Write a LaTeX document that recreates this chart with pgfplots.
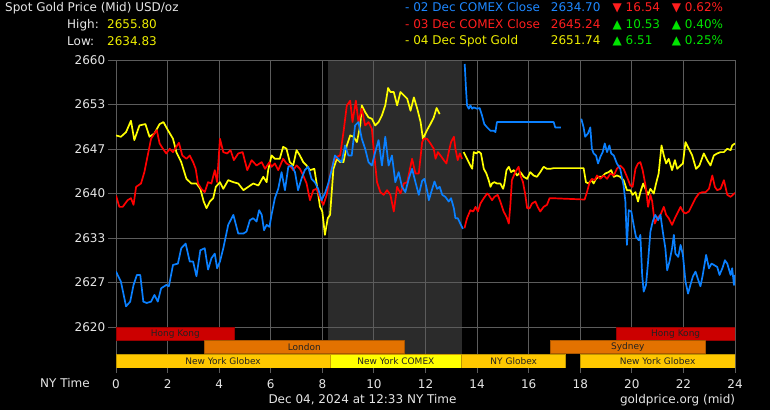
\documentclass[border=0pt]{standalone}
\usepackage{fontspec}
\setmainfont{DejaVu Sans}
\usepackage{xcolor}
\usepackage{pgfplots}
\pgfplotsset{compat=1.18}
\pagecolor{black}
\definecolor{gridgray}{HTML}{5C5C5C}
\definecolor{shade}{HTML}{2B2B2B}
\definecolor{txt}{HTML}{E6E6E6}
\definecolor{lblue}{HTML}{0A80FF}
\definecolor{tblue}{HTML}{1E88FF}
\definecolor{lred}{HTML}{FF0000}
\definecolor{tred}{HTML}{FF1E1E}
\definecolor{lyel}{HTML}{FFFF00}
\definecolor{tyel}{HTML}{EEEE00}
\definecolor{tgreen}{HTML}{00E400}
\definecolor{hk}{HTML}{CC0000}
\definecolor{ldn}{HTML}{E37200}
\definecolor{nyg}{HTML}{FFC800}
\definecolor{nyc}{HTML}{FFFF00}
\definecolor{bartxt}{HTML}{222222}
\newcommand\fs{\fontsize{12bp}{14bp}\selectfont}
\newcommand\fb{\fontsize{9bp}{10bp}\selectfont}
\begin{document}
\begin{tikzpicture}
\begin{axis}[
  at={(0,0)}, anchor=south west,
  scale only axis, width=619bp, height=308bp,
  set layers,
  xmin=0, xmax=24, ymin=2613.86, ymax=2660,
  xtick={0,2,...,24},
  ytick={2620,2626.667,2633.333,2640,2646.667,2653.333,2660},
  yticklabels={2620,2627,2633,2640,2647,2653,2660},
  grid=major,
  major grid style={draw=gridgray, line width=0.9bp},
  axis line style={draw=none},
  tick align=outside,
  xtick pos=bottom, ytick pos=left,
  tick style={draw=gridgray, line width=0.9bp},
  xtick style={/pgfplots/major tick length=5bp},
  ytick style={/pgfplots/major tick length=8bp},
  ticklabel style={font=\fs, text=txt},
  xticklabel style={yshift=-4bp},
  yticklabel style={xshift=-3bp},
  /pgf/number format/assume math mode=true,
  every axis plot/.append style={line join=round},
]
% shaded COMEX session
\addplot[on layer=axis background, fill=shade, draw=none] coordinates {(8.22,2613.86) (13.43,2613.86) (13.43,2660) (8.22,2660)} -- cycle;

% 04 Dec spot gold (yellow)
\addplot[lyel, line width=1.7bp] coordinates {
(0,2648.7) (0.19,2648.5) (0.39,2649.2) (0.58,2650.9) (0.71,2648.0) (0.91,2650.2) (1.14,2650.4) (1.30,2648.5) (1.49,2649.0) (1.69,2650.4) (1.84,2650.7) (2.01,2649.5) (2.21,2648.2) (2.34,2646.2) (2.53,2644.7) (2.73,2642.2) (2.92,2641.5) (3.12,2641.5) (3.27,2640.7) (3.40,2638.8) (3.51,2637.8) (3.64,2638.8) (3.77,2639.3) (3.87,2641.0) (4.03,2641.7) (4.16,2640.7) (4.35,2642.0) (4.55,2641.7) (4.74,2641.5) (4.94,2640.5) (5.13,2641.0) (5.32,2641.5) (5.52,2641.2) (5.71,2642.5) (5.84,2641.7) (5.90,2643.5) (6.03,2645.7) (6.16,2645.2) (6.35,2645.2) (6.48,2647.0) (6.61,2646.7) (6.74,2644.7) (6.87,2644.2) (7.00,2646.5) (7.13,2645.7) (7.26,2644.7) (7.39,2644.2) (7.52,2643.5) (7.69,2643.7) (7.78,2641.5) (7.91,2638.0) (8.00,2637.3) (8.10,2633.8) (8.21,2636.3) (8.30,2636.8) (8.43,2643.7) (8.56,2645.2) (8.69,2644.7) (8.82,2644.7) (8.95,2647.2) (9.08,2648.7) (9.21,2648.5) (9.34,2647.7) (9.47,2650.2) (9.53,2653.2) (9.66,2652.2) (9.79,2651.4) (9.92,2651.2) (10.05,2650.2) (10.18,2650.7) (10.31,2651.7) (10.44,2653.2) (10.55,2655.8) (10.64,2655.2) (10.77,2655.2) (10.90,2653.2) (11.03,2655.2) (11.16,2654.7) (11.29,2654.2) (11.42,2652.4) (11.55,2654.4) (11.68,2652.7) (11.81,2650.7) (11.90,2648.2) (12.06,2649.5) (12.19,2650.4) (12.32,2651.4) (12.43,2652.8) (12.55,2651.9)
};
\addplot[lyel, line width=1.7bp] coordinates {
(13.48,2646.2) (13.61,2645.2) (13.74,2644.2) (13.81,2643.7) (13.87,2646.2) (13.97,2646.0) (14.06,2646.3) (14.15,2646.0) (14.26,2643.7) (14.36,2643.0) (14.45,2642.0) (14.52,2641.0) (14.58,2641.5) (14.67,2641.7) (14.77,2641.5) (14.90,2641.5) (15.01,2640.7) (15.06,2641.5) (15.14,2643.5) (15.23,2644.0) (15.32,2643.2) (15.42,2643.5) (15.55,2642.7) (15.68,2643.2) (15.81,2642.5) (15.94,2642.2) (16.06,2643.2) (16.19,2642.7) (16.32,2642.5) (16.45,2643.2) (16.58,2644.0) (16.71,2643.7) (16.84,2643.7) (16.97,2643.8) (18.13,2643.8) (18.22,2641.7) (18.32,2641.5) (18.43,2642.0) (18.52,2641.5) (18.61,2642.2) (18.71,2642.5) (18.84,2642.5) (18.97,2643.0) (19.10,2643.2) (19.20,2643.5) (19.30,2642.5) (19.42,2642.7) (19.55,2642.5) (19.68,2642.0) (19.81,2640.5) (19.94,2640.5) (20.03,2639.8) (20.14,2640.2) (20.24,2638.8) (20.33,2640.2) (20.44,2641.5) (20.53,2640.7) (20.63,2639.8) (20.72,2640.7) (20.85,2640.0) (20.94,2641.5) (21.04,2643.0) (21.15,2647.2) (21.24,2645.7) (21.33,2644.5) (21.43,2645.2) (21.56,2643.5) (21.67,2645.0) (21.76,2643.7) (21.89,2644.2) (21.98,2644.5) (22.08,2647.7) (22.21,2646.7) (22.34,2645.7) (22.49,2643.7) (22.62,2644.2) (22.79,2646.0) (22.92,2645.0) (23.05,2644.2) (23.18,2645.7) (23.31,2646.0) (23.44,2646.2) (23.57,2646.2) (23.70,2646.7) (23.83,2646.5) (23.89,2647.2) (24.0,2647.5)
};

% 03 Dec COMEX close (red)
\addplot[lred, line width=1.7bp] coordinates {
(0,2639.7) (0.13,2638.0) (0.26,2638.0) (0.45,2639.0) (0.58,2639.3) (0.68,2638.3) (0.78,2641.0) (0.97,2641.5) (1.10,2643.2) (1.23,2645.7) (1.36,2648.2) (1.49,2649.0) (1.58,2649.5) (1.69,2647.5) (1.82,2646.7) (1.95,2646.0) (2.08,2646.7) (2.21,2646.2) (2.34,2647.0) (2.44,2647.6) (2.57,2645.7) (2.73,2645.2) (2.86,2645.7) (2.99,2644.7) (3.09,2643.7) (3.18,2641.5) (3.31,2640.7) (3.44,2640.2) (3.57,2641.7) (3.70,2641.5) (3.83,2643.5) (3.92,2641.7) (4.03,2648.2) (4.16,2646.2) (4.31,2646.0) (4.44,2646.5) (4.57,2645.0) (4.74,2646.0) (4.91,2646.2) (5.09,2643.5) (5.26,2645.0) (5.45,2644.2) (5.65,2644.7) (5.78,2643.7) (5.95,2644.7) (6.03,2644.0) (6.16,2644.5) (6.29,2643.5) (6.48,2645.2) (6.61,2644.5) (6.74,2644.2) (6.87,2643.5) (7.00,2644.2) (7.13,2643.7) (7.26,2642.7) (7.39,2641.5) (7.52,2639.0) (7.65,2640.5) (7.78,2640.7) (7.91,2639.3) (8.04,2638.3) (8.17,2639.8) (8.30,2642.7) (8.43,2644.7) (8.56,2645.5) (8.69,2645.7) (8.82,2649.2) (8.95,2653.2) (9.08,2653.9) (9.17,2650.7) (9.30,2653.9) (9.40,2650.7) (9.53,2652.7) (9.66,2650.2) (9.79,2650.7) (9.92,2649.7) (9.99,2646.7) (10.12,2641.7) (10.25,2640.2) (10.38,2639.8) (10.51,2640.5) (10.64,2639.8) (10.77,2637.3) (10.90,2641.0) (11.03,2640.0) (11.16,2641.5) (11.29,2641.7) (11.48,2645.2) (11.61,2643.0) (11.74,2643.0) (11.87,2647.7) (11.94,2648.2) (12.06,2648.2) (12.19,2647.5) (12.32,2646.7) (12.39,2645.2) (12.48,2646.2) (12.58,2645.7) (12.71,2645.0) (12.81,2644.5) (12.90,2646.2) (12.99,2647.7) (13.10,2648.5) (13.16,2646.7) (13.25,2645.0) (13.33,2646.0) (13.42,2645.2)
};
\addplot[lred, line width=1.7bp] coordinates {
(13.51,2634.8) (13.61,2636.3) (13.74,2637.5) (13.85,2637.3) (13.94,2638.0) (14.03,2637.3) (14.13,2638.5) (14.26,2639.3) (14.39,2640.0) (14.45,2639.8) (14.58,2639.0) (14.67,2639.5) (14.80,2639.8) (14.90,2638.8) (15.03,2637.3) (15.14,2636.5) (15.23,2635.5) (15.29,2638.3) (15.35,2642.0) (15.48,2643.2) (15.61,2644.0) (15.68,2642.7) (15.78,2641.7) (15.87,2639.8) (15.94,2637.8) (16.04,2637.8) (16.13,2638.5) (16.26,2638.8) (16.35,2638.0) (16.45,2637.3) (16.58,2638.0) (16.71,2638.3) (16.81,2639.3) (16.90,2639.3) (18.17,2639.1) (18.26,2640.2) (18.35,2641.5) (18.45,2642.2) (18.56,2642.0) (18.65,2642.7) (18.78,2642.2) (18.91,2642.7) (19.04,2642.2) (19.17,2643.0) (19.30,2642.7) (19.42,2643.7) (19.55,2644.2) (19.68,2643.7) (19.81,2642.5) (19.94,2641.2) (20.03,2641.0) (20.14,2643.7) (20.24,2644.5) (20.33,2644.7) (20.42,2643.5) (20.53,2641.2) (20.63,2638.0) (20.72,2639.8) (20.79,2638.8) (20.89,2635.5) (20.98,2636.3) (21.11,2636.8) (21.24,2638.0) (21.33,2636.8) (21.43,2636.3) (21.56,2635.3) (21.67,2636.3) (21.76,2637.0) (21.89,2638.0) (21.98,2637.3) (22.08,2637.0) (22.21,2637.3) (22.34,2638.3) (22.47,2639.3) (22.60,2640.0) (22.73,2640.2) (22.86,2640.2) (22.99,2640.7) (23.12,2642.7) (23.22,2641.0) (23.31,2640.5) (23.44,2640.7) (23.57,2642.0) (23.70,2639.8) (23.83,2639.5) (24.0,2640.1)
};

% 02 Dec COMEX close (blue)
\addplot[lblue, line width=1.7bp] coordinates {
(0,2628.3) (0.19,2626.8) (0.39,2623.1) (0.55,2623.8) (0.68,2626.3) (0.81,2627.8) (0.94,2627.8) (1.06,2623.8) (1.19,2623.6) (1.36,2623.8) (1.49,2624.8) (1.62,2623.8) (1.75,2625.8) (1.95,2626.3) (2.05,2626.1) (2.21,2629.3) (2.40,2629.5) (2.53,2631.8) (2.70,2632.5) (2.86,2629.8) (2.99,2629.8) (3.12,2627.6) (3.27,2631.5) (3.44,2631.8) (3.57,2628.6) (3.70,2630.3) (3.83,2631.0) (3.92,2628.8) (4.03,2629.8) (4.16,2631.8) (4.35,2635.3) (4.55,2636.8) (4.74,2634.0) (4.94,2634.0) (5.06,2634.3) (5.19,2636.0) (5.32,2636.3) (5.45,2635.8) (5.55,2637.5) (5.65,2636.8) (5.74,2634.5) (5.84,2635.3) (5.95,2635.0) (6.03,2636.8) (6.16,2639.3) (6.29,2640.7) (6.42,2643.2) (6.55,2640.5) (6.68,2644.0) (6.81,2644.2) (6.94,2643.2) (7.06,2640.5) (7.19,2642.2) (7.32,2643.5) (7.45,2644.0) (7.58,2642.2) (7.71,2641.7) (7.84,2640.7) (7.97,2639.0) (8.10,2640.0) (8.23,2641.5) (8.36,2643.5) (8.49,2645.7) (8.62,2645.2) (8.75,2644.7) (8.88,2647.2) (9.01,2645.7) (9.14,2645.7) (9.27,2650.2) (9.40,2650.7) (9.53,2648.2) (9.66,2646.7) (9.79,2644.7) (9.92,2644.2) (10.05,2646.2) (10.18,2648.0) (10.31,2644.2) (10.44,2648.5) (10.57,2644.2) (10.70,2645.7) (10.83,2641.7) (10.96,2643.2) (11.09,2641.0) (11.22,2640.2) (11.35,2642.2) (11.48,2643.7) (11.61,2641.7) (11.74,2639.8) (11.87,2641.9) (11.96,2642.2) (12.06,2640.5) (12.13,2639.0) (12.26,2640.7) (12.35,2641.8) (12.45,2640.7) (12.55,2641.0) (12.65,2639.8) (12.77,2639.5) (12.90,2638.8) (12.99,2639.3) (13.10,2637.8) (13.16,2636.3) (13.25,2636.3) (13.35,2635.5) (13.45,2634.7)
};
\addplot[lblue, line width=1.7bp] coordinates {
(13.52,2659.4) (13.57,2655.7) (13.61,2653.2) (13.68,2652.7) (13.74,2653.2) (13.81,2652.7) (13.87,2652.9) (14.0,2652.7) (14.10,2652.8) (14.19,2651.7) (14.28,2650.4) (14.39,2649.9) (14.52,2649.4) (14.65,2649.4) (14.71,2649.2) (14.77,2650.7) (16.97,2650.7) (17.03,2649.9) (17.25,2649.9)
};
\addplot[lblue, line width=1.7bp] coordinates {
(18.04,2651.2) (18.13,2649.9) (18.19,2648.5) (18.30,2649.0) (18.39,2649.9) (18.45,2646.7) (18.52,2646.0) (18.61,2645.7) (18.69,2644.5) (18.78,2645.5) (18.87,2646.2) (18.95,2647.5) (19.04,2646.2) (19.13,2647.2) (19.20,2646.0) (19.30,2645.7) (19.42,2644.5) (19.55,2643.7) (19.68,2641.2) (19.75,2638.8) (19.81,2632.3) (19.88,2637.5) (19.98,2637.3) (20.07,2635.3) (20.16,2633.5) (20.27,2633.0) (20.33,2633.8) (20.40,2627.8) (20.46,2625.3) (20.55,2626.3) (20.63,2629.8) (20.72,2634.3) (20.81,2635.8) (20.91,2636.8) (21.02,2636.0) (21.11,2636.8) (21.20,2634.3) (21.30,2631.8) (21.37,2628.5) (21.46,2629.8) (21.56,2631.8) (21.63,2633.8) (21.69,2631.0) (21.80,2630.5) (21.89,2632.3) (21.98,2630.8) (22.08,2626.8) (22.18,2625.0) (22.27,2626.3) (22.37,2627.6) (22.47,2628.3) (22.57,2627.1) (22.66,2626.1) (22.75,2627.8) (22.88,2630.8) (22.99,2628.8) (23.09,2629.5) (23.18,2629.3) (23.31,2629.0) (23.40,2627.8) (23.51,2628.8) (23.61,2630.0) (23.70,2629.5) (23.83,2627.8) (23.89,2628.8) (23.96,2626.3) (24.0,2627.8)
};

% market session bars
\addplot[fill=hk, draw=hk!75!black, line width=0.6bp] coordinates {(0,2617.95) (4.6,2617.95) (4.6,2620) (0,2620)} -- cycle;
\addplot[fill=hk, draw=hk!75!black, line width=0.6bp] coordinates {(19.39,2617.95) (24,2617.95) (24,2620) (19.39,2620)} -- cycle;
\addplot[fill=ldn, draw=ldn!75!black, line width=0.6bp] coordinates {(3.41,2616.07) (11.19,2616.07) (11.19,2617.95) (3.41,2617.95)} -- cycle;
\addplot[fill=ldn, draw=ldn!75!black, line width=0.6bp] coordinates {(16.83,2616.07) (22.85,2616.07) (22.85,2617.95) (16.83,2617.95)} -- cycle;
\addplot[fill=nyg, draw=nyg!75!black, line width=0.6bp] coordinates {(0,2613.86) (8.3,2613.86) (8.3,2615.96) (0,2615.96)} -- cycle;
\addplot[fill=nyc, draw=nyg!80!black, line width=0.6bp] coordinates {(8.3,2613.86) (13.4,2613.86) (13.4,2615.96) (8.3,2615.96)} -- cycle;
\addplot[fill=nyg, draw=nyg!75!black, line width=0.6bp] coordinates {(13.4,2613.86) (17.43,2613.86) (17.43,2615.96) (13.4,2615.96)} -- cycle;
\addplot[fill=nyg, draw=nyg!75!black, line width=0.6bp] coordinates {(18.0,2613.86) (24,2613.86) (24,2615.96) (18.0,2615.96)} -- cycle;

\node[font=\fb, text=bartxt, inner sep=0] at (axis cs:2.3,2618.97) {Hong Kong};
\node[font=\fb, text=bartxt, inner sep=0] at (axis cs:21.7,2618.97) {Hong Kong};
\node[font=\fb, text=bartxt, inner sep=0] at (axis cs:7.3,2617.0) {London};
\node[font=\fb, text=bartxt, inner sep=0] at (axis cs:19.84,2617.0) {Sydney};
\node[font=\fb, text=bartxt, inner sep=0] at (axis cs:4.15,2614.9) {New York Globex};
\node[font=\fb, text=bartxt, inner sep=0] at (axis cs:10.85,2614.9) {New York COMEX};
\node[font=\fb, text=bartxt, inner sep=0] at (axis cs:15.42,2614.9) {NY Globex};
\node[font=\fb, text=bartxt, inner sep=0] at (axis cs:21.0,2614.9) {New York Globex};
\end{axis}

% header, left
\begin{scope}[every node/.style={font=\fs, inner sep=0}]
\node[anchor=base west, text=txt] at (-111bp,356bp) {Spot Gold Price (Mid) USD/oz};
\node[anchor=base west, text=txt] at (-49bp,339.3bp) {High:};
\node[anchor=base west, text=tyel] at (-9bp,339.3bp) {2655.80};
\node[anchor=base west, text=txt] at (-49bp,322bp) {Low:};
\node[anchor=base west, text=tyel] at (-9bp,322bp) {2634.83};
% header, right
\node[anchor=base west, text=tblue] at (289bp,356.3bp) {- 02 Dec COMEX Close};
\node[anchor=base east, text=tblue] at (484.7bp,356.3bp) {2634.70};
\node[anchor=base west, text=tred] at (496.5bp,356.3bp) {▼ 16.54};
\node[anchor=base west, text=tred] at (555.7bp,356.3bp) {▼ 0.62\%};
\node[anchor=base west, text=tred] at (289bp,339.7bp) {- 03 Dec COMEX Close};
\node[anchor=base east, text=tred] at (484.7bp,339.7bp) {2645.24};
\node[anchor=base west, text=tgreen] at (496.5bp,339.7bp) {▲ 10.53};
\node[anchor=base west, text=tgreen] at (555.7bp,339.7bp) {▲ 0.40\%};
\node[anchor=base west, text=tyel] at (289bp,323bp) {- 04 Dec Spot Gold};
\node[anchor=base east, text=tyel] at (484.7bp,323bp) {2651.74};
\node[anchor=base west, text=tgreen] at (496.5bp,323bp) {▲ 6.51};
\node[anchor=base west, text=tgreen] at (555.7bp,323bp) {▲ 0.25\%};
% footer
\node[anchor=base west, text=txt] at (-76bp,-19bp) {NY Time};
\node[anchor=base west, text=txt] at (152.3bp,-35.3bp) {Dec 04, 2024 at 12:33 NY Time};
\node[anchor=base east, text=txt] at (619.3bp,-35.3bp) {goldprice.org (mid)};
\end{scope}
\path (-116bp,-42bp) rectangle (654bp,368bp);
\end{tikzpicture}
\end{document}
